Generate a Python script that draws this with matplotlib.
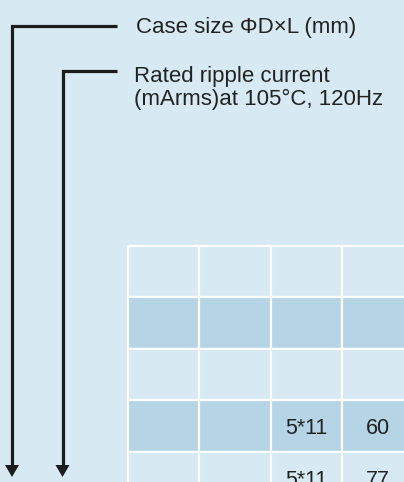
import matplotlib
matplotlib.use('Agg')
import matplotlib.pyplot as plt
from matplotlib.patches import Rectangle, Polygon

plt.rcParams['font.family'] = ['Liberation Sans', 'DejaVu Sans']

# Legend callouts
label_case = 'Case size \u03a6D\u00d7L (mm)'
label_ripple = ['Rated ripple current', '(mArms)at 105\u00b0C, 120Hz']

# Table contents (visible part only)
case_sizes = ['', '', '', '5*11', '5*11']
ripple_mA = ['', '', '', '60', '77']
col_a = ['', '', '', '', '']
col_b = ['', '', '', '', '']

bg = '#d7e9f3'
dark_row = '#b5d4e6'
ink = '#1c1c1c'
txt = '#222222'

W, H = 404, 482
fig = plt.figure(figsize=(W / 100, H / 100), dpi=100)
fig.patch.set_facecolor(bg)
ax = fig.add_axes([0, 0, 1, 1])
ax.set_xlim(0, W)
ax.set_ylim(H, 0)
ax.axis('off')

# table
x0, y0 = 127.5, 245.5
cw, rh = 71.5, 51.5
columns = [col_a, col_b, case_sizes, ripple_mA]
for r in range(len(case_sizes)):
    face = dark_row if r % 2 == 1 else bg
    for c, col in enumerate(columns):
        ax.add_patch(Rectangle((x0 + c * cw, y0 + r * rh), cw, rh,
                               facecolor=face, edgecolor='white', linewidth=1.6))
        if col[r]:
            ax.text(x0 + (c + 0.5) * cw, y0 + r * rh + 34.5, col[r],
                    ha='center', va='baseline', fontsize=15.5, color=txt)

# callout lines with arrows
def callout(xv, yh, xend, ytip):
    ax.plot([xend, xv, xv], [yh, yh, ytip - 11], color=ink, lw=2.3,
            solid_joinstyle='miter', solid_capstyle='butt')
    ax.add_patch(Polygon([(xv - 7, ytip - 12), (xv + 7, ytip - 12), (xv, ytip)],
                         closed=True, facecolor=ink, edgecolor='none'))

callout(12, 26, 117, 477)
callout(62.5, 70.5, 117, 477)

ax.text(136, 33.3, label_case, ha='left', va='baseline', fontsize=16, color=txt)
for i, line in enumerate(label_ripple):
    ax.text(134, 81.7 + i * 23.3, line, ha='left', va='baseline', fontsize=16, color=txt)

fig.savefig('out.png', dpi=100, facecolor=bg)
